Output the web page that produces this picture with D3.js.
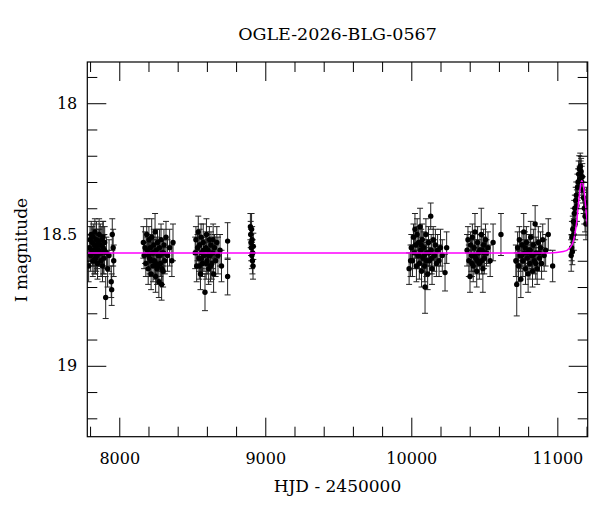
<!DOCTYPE html>
<html>
<head>
<meta charset="utf-8">
<script src="https://cdn.jsdelivr.net/npm/d3@7"></script>
<style>
  body { margin: 0; background: #fff; }
</style>
</head>
<body>
<div id="chart"></div>
<script>
// photometry, one array per season: [HJD-2450000, I mag, error]
var s2017 = [[7790,18.62,.06],[7795,18.55,.05],[7800,18.52,.05],[7804,18.58,.06],[7808,18.50,.05],
  [7812,18.56,.05],[7815,18.53,.06],[7819,18.60,.06],[7822,18.51,.05],[7826,18.57,.05],
  [7830,18.54,.06],[7833,18.49,.05],[7837,18.59,.06],[7840,18.55,.05],[7844,18.52,.07],
  [7848,18.58,.05],[7851,18.61,.06],[7855,18.53,.05],[7858,18.56,.06],[7862,18.50,.06],
  [7866,18.57,.05],[7870,18.54,.08],[7875,18.60,.06],[7880,18.52,.05],[7885,18.62,.06],
  [7890,18.55,.10],[7895,18.59,.06],[7900,18.53,.06],[7907,18.74,.08],[7912,18.57,.06],
  [7920,18.63,.07],[7930,18.58,.06],[7945,18.68,.06],[7948,18.71,.06],[7952,18.50,.06],
  [7958,18.55,.07],[7962,18.60,.06],[7817,18.57,.05],[7828,18.60,.05],[7842,18.58,.06],
  [7853,18.56,.05],[7864,18.54,.06],[7878,18.57,.05],[7888,18.51,.06],[7898,18.56,.06]];
var s2018 = [[8165,18.53,.06],[8170,18.58,.05],[8176,18.55,.06],[8182,18.61,.05],[8188,18.50,.06],
  [8193,18.56,.05],[8198,18.63,.06],[8203,18.52,.05],[8208,18.59,.06],[8213,18.55,.05],
  [8218,18.65,.06],[8222,18.51,.07],[8227,18.57,.05],[8231,18.62,.06],[8236,18.54,.06],
  [8240,18.60,.05],[8245,18.49,.07],[8249,18.66,.06],[8253,18.56,.05],[8258,18.63,.06],
  [8262,18.53,.05],[8267,18.58,.06],[8271,18.68,.06],[8276,18.55,.07],[8281,18.61,.05],
  [8286,18.52,.06],[8290,18.69,.06],[8295,18.57,.05],[8300,18.64,.06],[8306,18.54,.06],
  [8312,18.60,.05],[8320,18.51,.06],[8330,18.58,.06],[8345,18.55,.07],[8360,18.60,.06],
  [8368,18.53,.07],[8200,18.58,.05],[8216,18.60,.06],[8234,18.57,.05],[8251,18.61,.06],
  [8264,18.62,.05],[8279,18.58,.06],[8293,18.63,.06],[8303,18.57,.05]];
var s2019 = [[8520,18.57,.06],[8525,18.52,.05],[8530,18.62,.06],[8536,18.55,.05],[8541,18.49,.06],
  [8546,18.59,.05],[8551,18.54,.06],[8556,18.65,.06],[8560,18.51,.05],[8565,18.57,.06],
  [8570,18.61,.05],[8575,18.53,.07],[8580,18.58,.06],[8587,18.72,.07],[8592,18.55,.06],
  [8597,18.50,.06],[8602,18.60,.05],[8607,18.56,.06],[8612,18.63,.06],[8617,18.52,.05],
  [8622,18.58,.06],[8628,18.54,.05],[8634,18.61,.06],[8640,18.57,.06],[8646,18.65,.07],
  [8652,18.55,.05],[8660,18.60,.06],[8668,18.53,.06],[8676,18.58,.07],[8690,18.56,.06],
  [8700,18.62,.06],[8742,18.525,.07],[8742,18.66,.07],[8548,18.62,.05],[8563,18.59,.06],
  [8578,18.56,.05],[8595,18.61,.06],[8610,18.58,.05],[8625,18.62,.06],[8643,18.52,.06]];
var s2020 = [[8898,18.47,.05],[8900,18.50,.05],[8902,18.53,.05],[8904,18.55,.05],[8906,18.48,.06],
  [8908,18.58,.05],[8910,18.52,.05],[8912,18.60,.05],[8914,18.57,.05],[8916,18.62,.05],
  [8918,18.545,.05]];
var s2023 = [[9985,18.63,.06],[9995,18.60,.06],[10000,18.55,.05],[10008,18.60,.06],[10015,18.51,.05],
  [10020,18.57,.06],[10025,18.48,.06],[10030,18.54,.05],[10035,18.62,.06],[10040,18.50,.06],
  [10045,18.58,.05],[10050,18.53,.06],[10055,18.61,.06],[10060,18.47,.07],[10065,18.56,.05],
  [10070,18.64,.06],[10075,18.52,.06],[10080,18.59,.05],[10085,18.55,.06],[10090,18.62,.06],
  [10094,18.70,.10],[10100,18.50,.06],[10106,18.57,.05],[10112,18.65,.06],[10118,18.53,.06],
  [10124,18.60,.05],[10133,18.43,.05],[10136,18.56,.06],[10142,18.63,.06],[10150,18.52,.05],
  [10158,18.58,.06],[10165,18.54,.06],[10172,18.61,.05],[10180,18.56,.06],[10190,18.60,.06],
  [10200,18.55,.07],[10212,18.58,.06],[10231,18.645,.07],[10242,18.55,.06],[10052,18.58,.05],
  [10068,18.54,.06],[10088,18.58,.05],[10103,18.60,.06],[10121,18.57,.05],[10140,18.59,.06]];
var s2024 = [[10382,18.56,.06],[10388,18.52,.05],[10394,18.60,.06],[10402,18.66,.06],[10406,18.54,.05],
  [10412,18.58,.06],[10418,18.51,.05],[10424,18.62,.06],[10430,18.55,.06],[10436,18.49,.07],
  [10442,18.59,.05],[10448,18.64,.06],[10454,18.53,.06],[10460,18.57,.05],[10466,18.61,.06],
  [10479,18.50,.10],[10485,18.56,.06],[10490,18.63,.09],[10495,18.54,.06],[10500,18.59,.06],
  [10508,18.52,.06],[10515,18.57,.05],[10525,18.55,.06],[10540,18.60,.06],[10560,18.53,.07],
  [10614,18.50,.08],[10415,18.61,.05],[10433,18.58,.06],[10451,18.60,.05],[10470,18.56,.06],
  [10482,18.60,.05],[10498,18.57,.06]];
var s2025 = [[10716,18.60,.06],[10722,18.69,.12],[10728,18.55,.06],[10734,18.62,.06],[10740,18.52,.05],
  [10746,18.58,.06],[10750,18.67,.07],[10758,18.54,.05],[10764,18.60,.06],[10770,18.49,.07],
  [10776,18.57,.05],[10782,18.63,.06],[10788,18.53,.06],[10794,18.59,.05],[10800,18.65,.07],
  [10806,18.56,.06],[10812,18.61,.06],[10818,18.51,.06],[10824,18.58,.05],[10830,18.64,.06],
  [10836,18.54,.06],[10842,18.60,.05],[10848,18.46,.07],[10855,18.57,.06],[10862,18.63,.06],
  [10870,18.53,.06],[10878,18.59,.05],[10885,18.55,.06],[10892,18.61,.06],[10900,18.52,.06],
  [10910,18.58,.06],[10920,18.56,.06],[10938,18.50,.06],[10968,18.62,.06],[10755,18.58,.05],
  [10779,18.55,.06],[10797,18.57,.05],[10815,18.56,.06],[10833,18.58,.05],[10852,18.61,.06],
  [10874,18.57,.05]];
var s2026 = [[11095,18.58,.06],[11098,18.55,.05],[11100,18.51,.06],[11103,18.565,.05],[11106,18.48,.05],
  [11110,18.45,.05],[11113,18.50,.06],[11116,18.42,.05],[11120,18.40,.05],[11122,18.46,.06],
  [11126,18.37,.05],[11130,18.35,.05],[11134,18.39,.06],[11138,18.32,.05],[11142,18.30,.05],
  [11146,18.27,.05],[11150,18.25,.05],[11153,18.29,.05],[11157,18.24,.05],[11160,18.27,.05],
  [11163,18.26,.05],[11167,18.30,.06],[11171,18.28,.05],[11175,18.33,.05],[11180,18.36,.06],
  [11185,18.40,.06],[11190,18.43,.06],[11196,18.46,.06],[11200,18.38,.06]];

// magenta model curve, sampled off the plot
var modelHjd = [7781, 10950, 11041, 11087, 11110, 11133, 11149, 11160, 11167, 11175, 11183, 11195, 11208];
var modelMag = [18.57, 18.57, 18.565, 18.55, 18.525, 18.45, 18.36, 18.31, 18.295, 18.305, 18.33, 18.40, 18.47];

// ticks
var xMajor = [8000, 9000, 10000, 11000];
var xMinor = [7800, 8200, 8400, 8600, 8800, 9200, 9400, 9600, 9800, 10200, 10400, 10600, 10800, 11200];
var yMajor = [18, 18.5, 19];
var yMinor = [17.9, 18.1, 18.2, 18.3, 18.4, 18.6, 18.7, 18.8, 18.9, 19.1, 19.2];

var title = "OGLE-2026-BLG-0567";
var serif = "DejaVu Serif";

function drawLightCurve(){
    var points = [].concat(s2017, s2018, s2019, s2020, s2023, s2024, s2025, s2026)
        .map(function(d) { return {t: d[0], mag: d[1], err: d[2]}; });
    var model = modelHjd.map(function(t, i) { return {t: t, mag: modelMag[i]}; });

    var margin = {top: 62, right: 12.3, bottom: 75.3, left: 87.3},
        width = 600 - margin.left - margin.right,
        height = 512 - margin.top - margin.bottom;

    var x = d3.scaleLinear().domain([7781, 11208]).range([0, width]);
    // magnitudes: brighter is up
    var y = d3.scaleLinear().domain([17.843, 19.27]).range([0, height]);

    var svg = d3.select("#chart").append("svg")
        .attr("width", 600)
        .attr("height", 512)
      .append("g")
        .attr("transform", "translate(" + margin.left + "," + margin.top + ")");

    svg.append("clipPath").attr("id", "plot")
      .append("rect").attr("width", width).attr("height", height);

    var data = svg.append("g").attr("clip-path", "url(#plot)");

    // error bars with caps
    var bars = data.selectAll(".err")
        .data(points)
        .enter().append("g")
        .attr("class", "err")
        .attr("stroke", "#222")
        .attr("stroke-width", 1);
    bars.append("line")
        .attr("x1", function(d) { return x(d.t); })
        .attr("x2", function(d) { return x(d.t); })
        .attr("y1", function(d) { return y(d.mag - d.err); })
        .attr("y2", function(d) { return y(d.mag + d.err); });
    bars.append("line")
        .attr("x1", function(d) { return x(d.t) - 3; })
        .attr("x2", function(d) { return x(d.t) + 3; })
        .attr("y1", function(d) { return y(d.mag - d.err); })
        .attr("y2", function(d) { return y(d.mag - d.err); });
    bars.append("line")
        .attr("x1", function(d) { return x(d.t) - 3; })
        .attr("x2", function(d) { return x(d.t) + 3; })
        .attr("y1", function(d) { return y(d.mag + d.err); })
        .attr("y2", function(d) { return y(d.mag + d.err); });

    data.selectAll(".dot")
        .data(points)
        .enter().append("circle")
        .attr("class", "dot")
        .attr("cx", function(d) { return x(d.t); })
        .attr("cy", function(d) { return y(d.mag); })
        .attr("r", 2.7)
        .attr("fill", "#000");

    data.append("path")
        .datum(model)
        .attr("fill", "none")
        .attr("stroke", "#ff00ff")
        .attr("stroke-width", 1.5)
        .attr("d", d3.line()
            .curve(d3.curveMonotoneX)
            .x(function(d) { return x(d.t); })
            .y(function(d) { return y(d.mag); }));

    // ticks on all four sides, pointing inward
    function tidy(g){
        g.select(".domain").remove();
        g.selectAll("line").attr("stroke", "#000");
        g.selectAll("text")
            .attr("font-family", serif)
            .attr("font-size", 16)
            .attr("fill", "#000");
    }
    var bottom = svg.append("g").attr("transform", "translate(0," + height + ")");
    bottom.append("g").call(d3.axisBottom(x).tickValues(xMajor).tickSize(-19).tickPadding(16)
        .tickFormat(d3.format("d"))).call(tidy);
    bottom.append("g").call(d3.axisBottom(x).tickValues(xMinor).tickSize(-10).tickFormat("")).call(tidy);

    svg.append("g").call(d3.axisTop(x).tickValues(xMajor).tickSize(-19).tickFormat("")).call(tidy);
    svg.append("g").call(d3.axisTop(x).tickValues(xMinor).tickSize(-10).tickFormat("")).call(tidy);

    svg.append("g").call(d3.axisLeft(y).tickValues(yMajor).tickSize(-19).tickPadding(10)
        .tickFormat(function(d) { return d; })).call(tidy);
    svg.append("g").call(d3.axisLeft(y).tickValues(yMinor).tickSize(-10).tickFormat("")).call(tidy);

    var right = svg.append("g").attr("transform", "translate(" + width + ",0)");
    right.append("g").call(d3.axisRight(y).tickValues(yMajor).tickSize(-19).tickFormat("")).call(tidy);
    right.append("g").call(d3.axisRight(y).tickValues(yMinor).tickSize(-10).tickFormat("")).call(tidy);

    svg.append("rect")
        .attr("width", width)
        .attr("height", height)
        .attr("fill", "none")
        .attr("stroke", "#000")
        .attr("stroke-width", 1.2);

    svg.append("text")
        .attr("x", width / 2)
        .attr("y", -22)
        .attr("text-anchor", "middle")
        .attr("font-family", serif)
        .attr("font-size", 17.5)
        .text(title);

    svg.append("text")
        .attr("x", width / 2)
        .attr("y", height + 55)
        .attr("text-anchor", "middle")
        .attr("font-family", serif)
        .attr("font-size", 17)
        .text("HJD - 2450000");

    svg.append("text")
        .attr("transform", "translate(" + (26.5 - margin.left) + "," + (250 - margin.top) + ") rotate(-90)")
        .attr("text-anchor", "middle")
        .attr("font-family", serif)
        .attr("font-size", 17)
        .text("I magnitude");
}

drawLightCurve();
</script>
</body>
</html>
